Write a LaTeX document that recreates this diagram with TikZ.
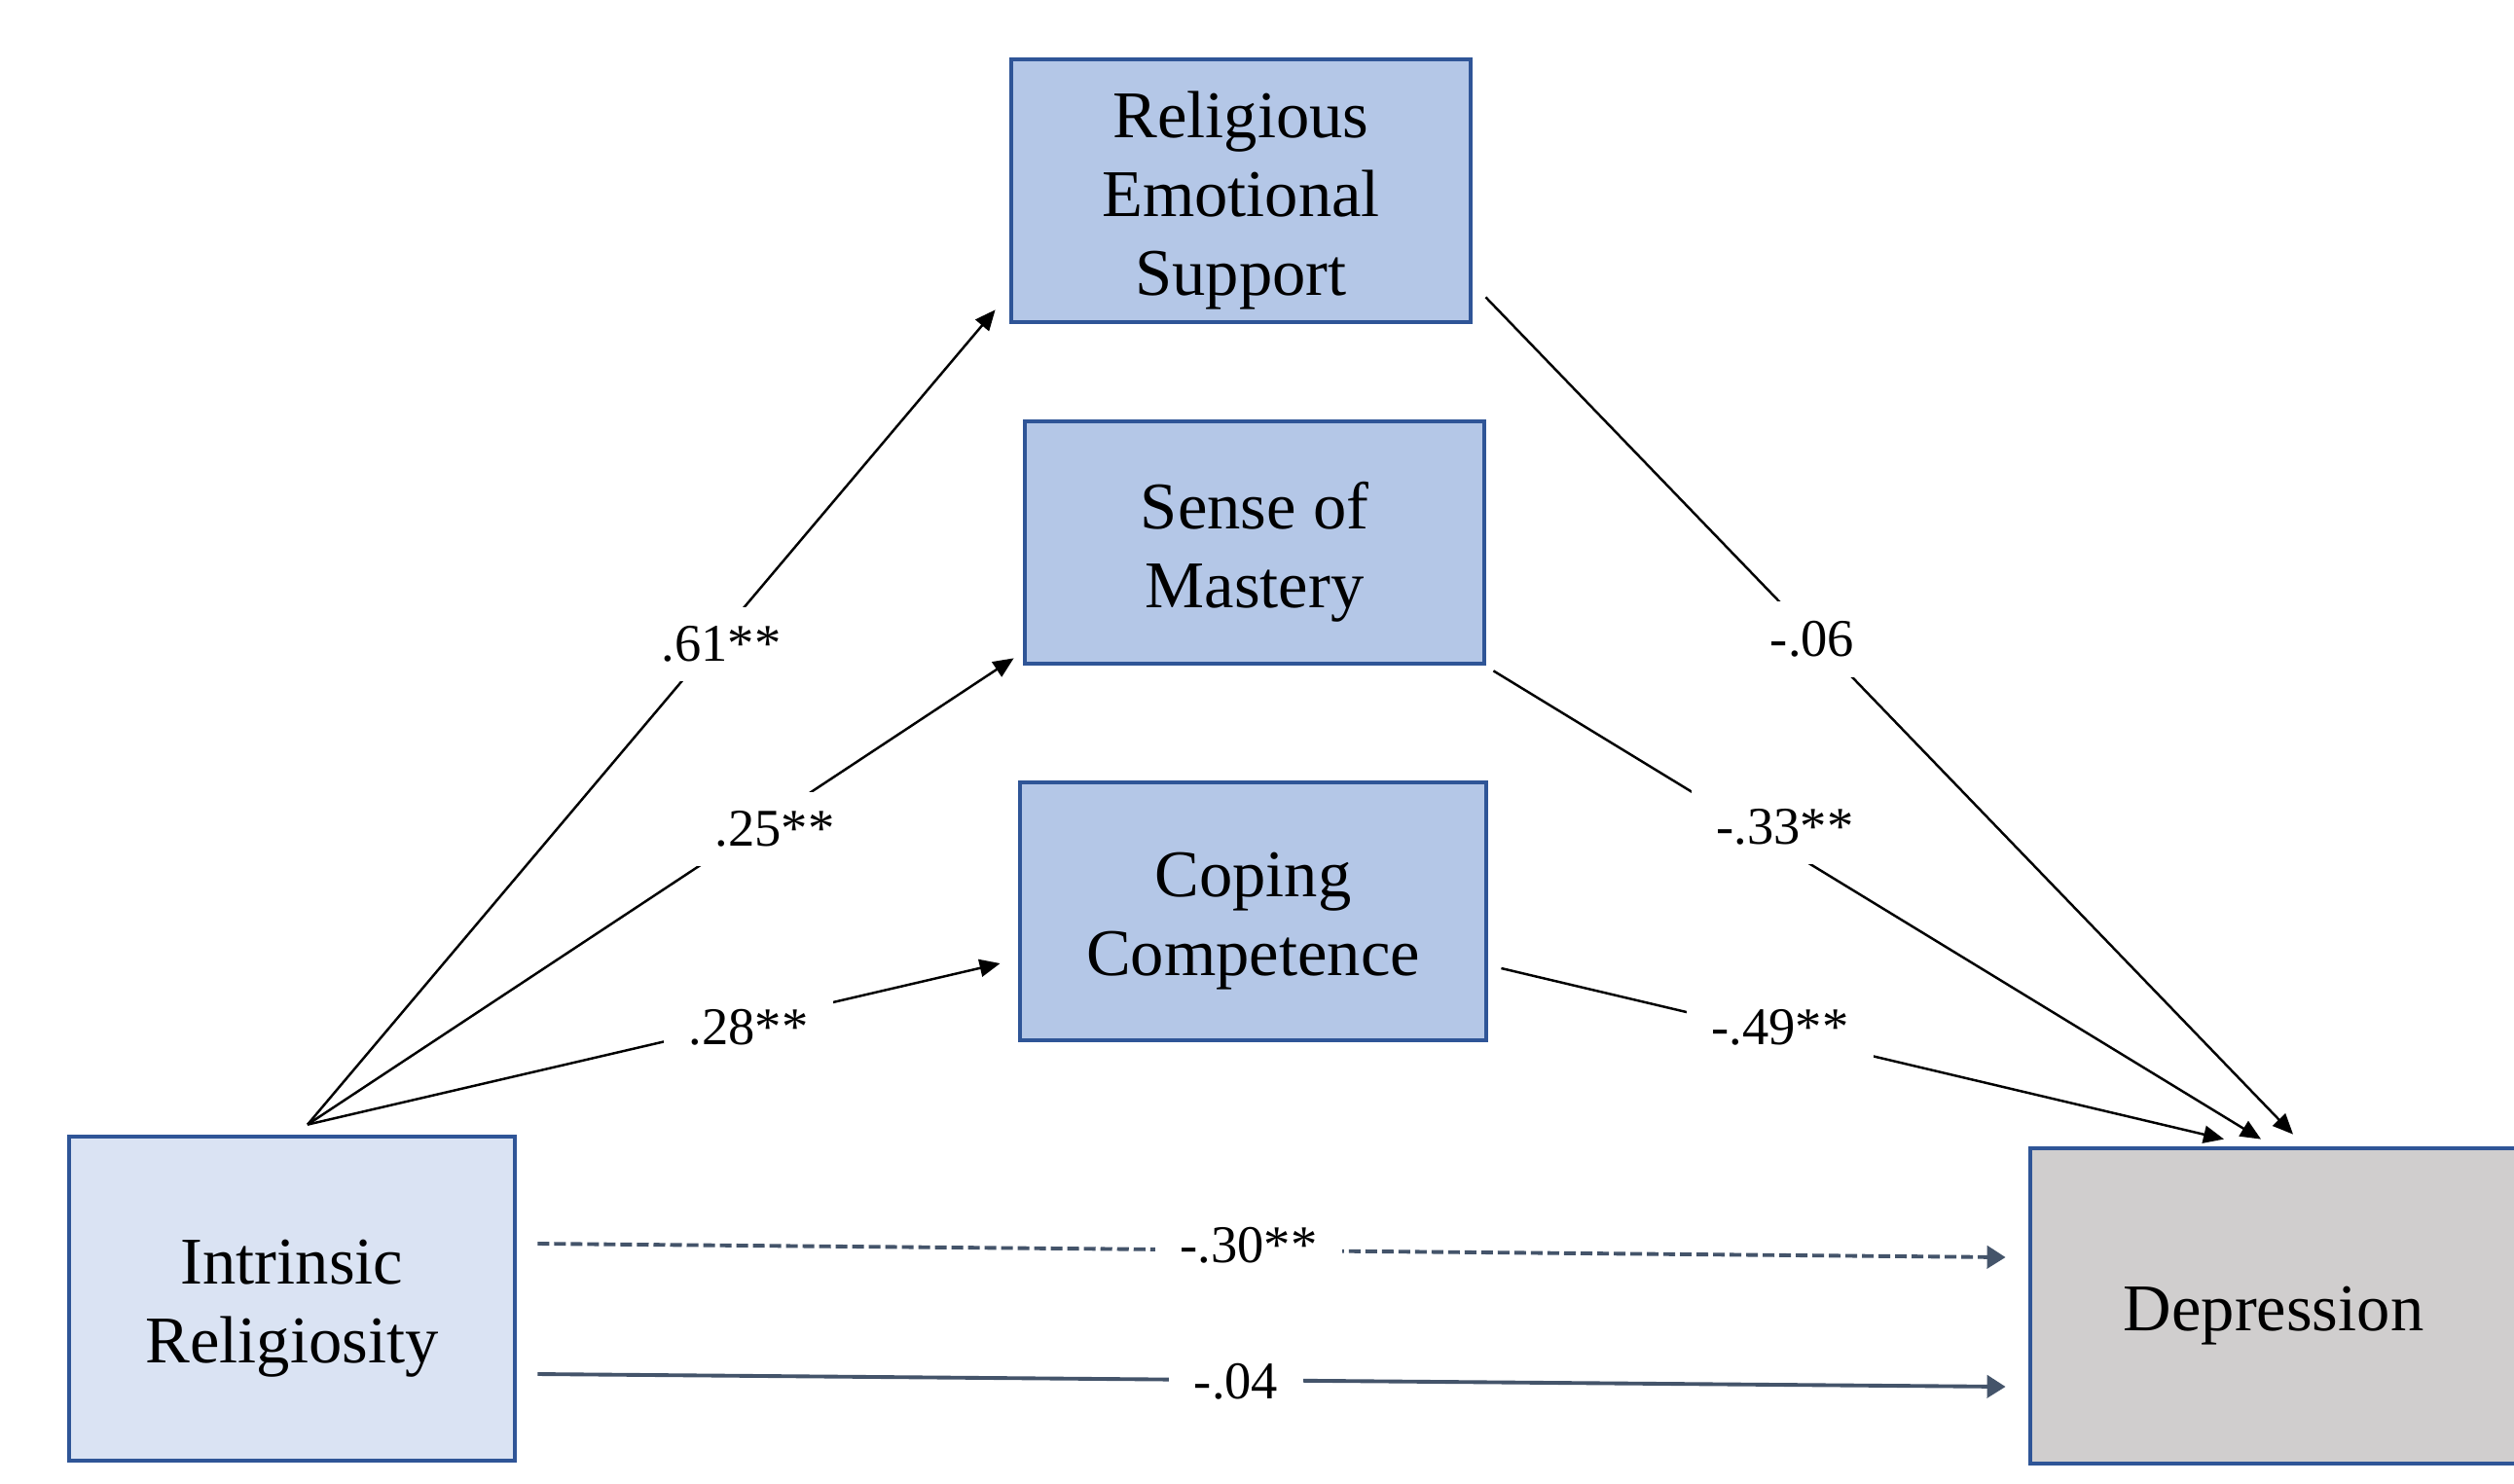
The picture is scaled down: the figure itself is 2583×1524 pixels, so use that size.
\documentclass[tikz,border=0pt]{standalone}
\usepackage{fontspec}
\setmainfont{Liberation Serif}
\usetikzlibrary{arrows.meta,calc}
\definecolor{boxblue}{HTML}{B4C7E7}
\definecolor{boxlight}{HTML}{DAE3F3}
\definecolor{boxgray}{HTML}{D0CECE}
\definecolor{edgeblue}{HTML}{2F5597}
\definecolor{slate}{HTML}{44546A}
\begin{document}
\begin{tikzpicture}[x=0.01cm,y=-0.01cm,
  var/.style={draw=edgeblue,line width=1.3pt,inner sep=0pt},
  vtext/.style={align=center,inner sep=0pt,yshift=-0.1cm,font=\fontsize{19.5}{23}\selectfont},
  coef/.style={fill=white,inner xsep=0.26cm,inner ysep=0.2cm,font=\fontsize{15.5}{18}\selectfont},
  arr/.style={draw=black,line width=0.7pt,-{Triangle[length=0.21cm,width=0.18cm]}},
  harr/.style={draw=slate,line width=1.1pt,-{Triangle[length=0.19cm,width=0.23cm]}},
]
\useasboundingbox (0,0) rectangle (2583,1524);
\fill[white] (0,0) rectangle (2583,1524);

\node[var,fill=boxblue,minimum width=4.72cm,minimum height=2.70cm,
  label={[vtext]center:{Religious\\Emotional\\Support}}] (RES) at (1275,196) {};
\node[var,fill=boxblue,minimum width=4.72cm,minimum height=2.49cm,
  label={[vtext]center:{Sense of\\Mastery}}] (SOM) at (1289,557.5) {};
\node[var,fill=boxblue,minimum width=4.79cm,minimum height=2.65cm,
  label={[vtext]center:{Coping\\Competence}}] (CC) at (1287.5,936.5) {};
\node[var,fill=boxlight,minimum width=4.58cm,minimum height=3.33cm,
  label={[vtext]center:{Intrinsic\\Religiosity}}] (IR) at (300,1334.5) {};
\node[var,fill=boxgray,minimum width=5.00cm,minimum height=3.24cm,
  label={[vtext]center:{Depression}}] (DEP) at (2336,1342) {};

\coordinate (src) at ($(IR.north)+(16,-10)$);

\draw[arr] (src) -- ($(RES.south west)+(-14,-15)$);
\draw[arr] (src) -- ($(SOM.south west)+(-9,-8)$);
\draw[arr] (src) -- ($(CC.west)+(-18,53.5)$);
\draw[arr] ($(RES.south east)+(13,-28)$) -- ($(DEP.north)+(20,-12)$);
\draw[arr] ($(SOM.south east)+(7,5)$) -- ($(DEP.north)+(-13,-7)$);
\draw[arr] ($(CC.east)+(13,58.5)$) -- ($(DEP.north)+(-51,-7)$);
\draw[harr,dash pattern=on 0.12cm off 0.05cm] ($(IR.east)+(21,-56.5)$) -- ($(DEP.west)+(-23,-50)$);
\draw[harr] ($(IR.east)+(21,77.5)$) -- ($(DEP.west)+(-23,83)$);

\node[coef] (l61) at (741,662) {.61**};
\node[coef] (l25) at (796,852) {.25**};
\node[coef] (l28) at (769,1056) {.28**};
\node[coef] (l06) at (1862,657) {-.06};
\node[coef] (l33) at (1834,850) {-.33**};
\node[coef] (l49) at (1829,1056) {-.49**};
\node[coef] (l30) at (1283,1280) {-.30**};
\node[coef] (l04) at (1270,1420) {-.04};
\end{tikzpicture}
\end{document}
